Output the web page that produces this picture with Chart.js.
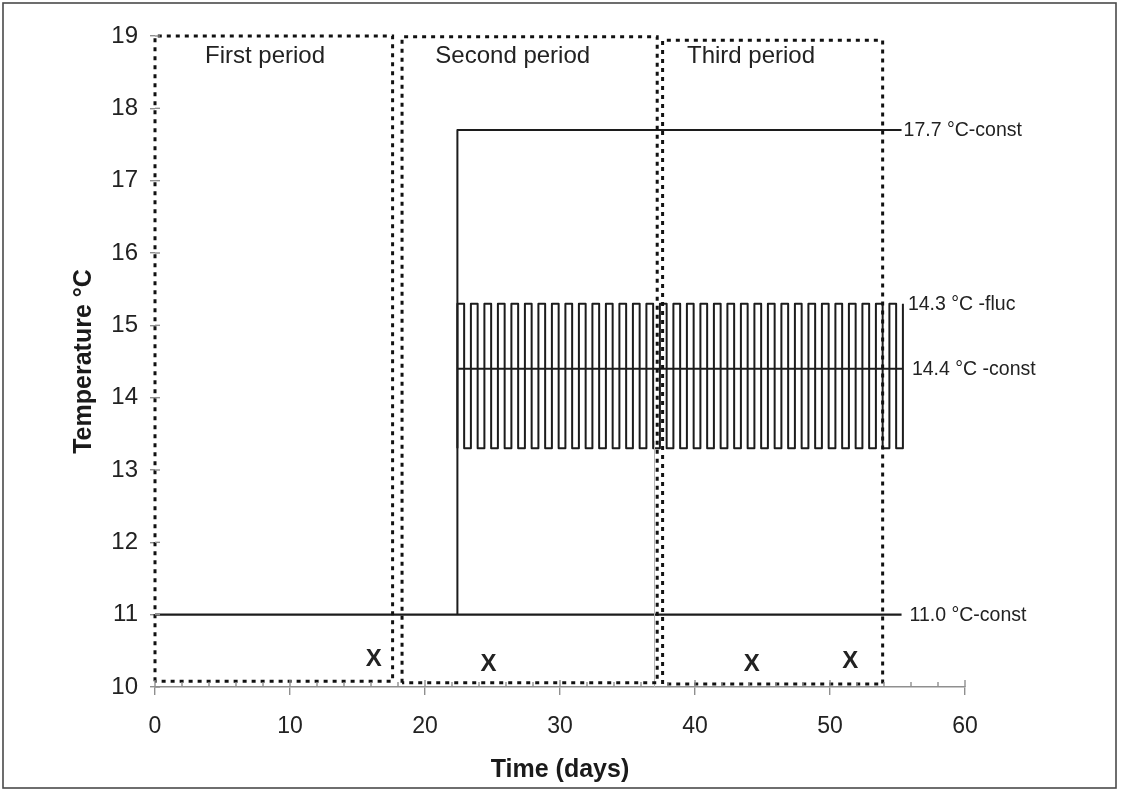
<!DOCTYPE html>
<html>
<head>
<meta charset="utf-8">
<title>Temperature regimes</title>
<script src="https://cdn.jsdelivr.net/npm/chart.js@4/dist/chart.umd.min.js"></script>
<style>
  html, body { margin: 0; padding: 0; background: #ffffff; }
  #wrap { width: 1121px; height: 791px; }
</style>
</head>
<body>
<div id="wrap"><canvas id="chart" width="1121" height="791"></canvas></div>
<script>
// ---- temperature regimes (days, °C) ----
const days11 = [0, 55.3];
const temps11 = [11.0, 11.0];

const days177 = [22.4, 22.4, 55.3];
const temps177 = [11.0, 17.7, 17.7];

const days144 = [22.4, 55.4];
const temps144 = [14.4, 14.4];

// fluctuating regime: switches to the high step, then back to the low step
const flucRiseDays = [22.4, 23.4, 24.4, 25.4, 26.4, 27.4, 28.4, 29.4, 30.4, 31.4, 32.4, 33.4,
                      34.4, 35.4, 36.4, 37.4, 38.4, 39.4, 40.4, 41.4, 42.4, 43.4, 44.4, 45.4,
                      46.4, 47.4, 48.4, 49.4, 50.4, 51.4, 52.4, 53.4, 54.4, 55.4];
const flucFallDays = [22.9, 23.9, 24.9, 25.9, 26.9, 27.9, 28.9, 29.9, 30.9, 31.9, 32.9, 33.9,
                      34.9, 35.9, 36.9, 37.9, 38.9, 39.9, 40.9, 41.9, 42.9, 43.9, 44.9, 45.9,
                      46.9, 47.9, 48.9, 49.9, 50.9, 51.9, 52.9, 53.9, 54.9];
const flucHigh = 15.3;
const flucLow = 13.3;

const seriesLabels = ['17.7 °C-const', '14.3 °C -fluc', '14.4 °C -const', '11.0 °C-const'];

// experimental periods
const periodNames = ['First period', 'Second period', 'Third period'];
const periodStart = [0, 18.3, 37.6];
const periodEnd = [17.6, 37.2, 53.9];
const periodBottom = [10.08, 10.06, 10.04];
const periodTop = [19.0, 18.99, 18.94];

// sampling occasions
const sampleDays = [16.2, 24.7, 44.2, 51.5];
const sampleTemps = [10.39, 10.33, 10.32, 10.37];

// axis ticks
const yTicks = [10, 11, 12, 13, 14, 15, 16, 17, 18, 19];
const xTickLabels = [0, 10, 20, 30, 40, 50, 60];

// ---- build point lists ----
const pts = (xs, ys) => xs.map((v, i) => ({ x: v, y: ys[i] }));

const flucPoints = [];
flucRiseDays.forEach((r, i) => {
  flucPoints.push({ x: r, y: flucLow });
  flucPoints.push({ x: r, y: flucHigh });
  if (i < flucFallDays.length) {
    flucPoints.push({ x: flucFallDays[i], y: flucHigh });
    flucPoints.push({ x: flucFallDays[i], y: flucLow });
  }
});

const boxPoints = periodStart.map((s, i) => [
  { x: s, y: periodBottom[i] },
  { x: s, y: periodTop[i] },
  { x: periodEnd[i], y: periodTop[i] },
  { x: periodEnd[i], y: periodBottom[i] },
  { x: s, y: periodBottom[i] }
]);

const FONT = '"Liberation Sans", Arial, Helvetica, sans-serif';
const INK = '#1c1c1c';
const AXIS = '#8f8f8f';

const solid = (data, width) => ({
  data, borderColor: INK, borderWidth: width, pointRadius: 0, tension: 0,
  fill: false, clip: false, borderJoinStyle: 'round', borderCapStyle: 'butt'
});
const dashed = (data) => ({
  data, borderColor: '#111', borderWidth: 3, borderDash: [4, 5], pointRadius: 0,
  tension: 0, fill: false, clip: false
});

const datasets = [
  ...boxPoints.map(dashed),
  { data: pts([37.0, 37.0], [10, 13.4]), borderColor: '#b5b5b5', borderWidth: 1,
    pointRadius: 0, fill: false, clip: false },
  solid(pts(days11, temps11), 2.2),
  solid(pts(days177, temps177), 2),
  solid(flucPoints, 2),
  solid(pts(days144, temps144), 2.2)
];

// annotations: frame, inward tick marks, period titles, series labels, sample marks
const decorations = {
  id: 'decorations',
  beforeDraw(chart) {
    const { ctx, width, height } = chart;
    ctx.save();
    ctx.fillStyle = '#ffffff';
    ctx.fillRect(0, 0, width, height);
    ctx.restore();
  },
  afterDraw(chart) {
    const { ctx, scales: { x, y } } = chart;
    ctx.save();

    // outer frame
    ctx.strokeStyle = '#4a4a4a';
    ctx.lineWidth = 1.6;
    ctx.strokeRect(3, 3, chart.width - 8, chart.height - 6);

    // inward tick marks
    ctx.strokeStyle = AXIS;
    ctx.lineWidth = 1.4;
    const x0 = x.getPixelForValue(0);
    yTicks.forEach(v => {
      const py = y.getPixelForValue(v);
      ctx.beginPath(); ctx.moveTo(x0, py); ctx.lineTo(x0 + 5, py); ctx.stroke();
    });
    const yb = y.getPixelForValue(10);
    x.ticks.forEach(t => {
      const px = x.getPixelForValue(t.value);
      const len = t.value % 10 === 0 ? 7 : 5;
      ctx.beginPath(); ctx.moveTo(px, yb); ctx.lineTo(px, yb - len); ctx.stroke();
    });

    // period titles
    ctx.fillStyle = '#222';
    ctx.font = '24px ' + FONT;
    ctx.textAlign = 'center';
    ctx.textBaseline = 'middle';
    const titleDays = [8.15, 26.5, 44.15];
    periodNames.forEach((n, i) => {
      ctx.fillText(n, x.getPixelForValue(titleDays[i]), y.getPixelForValue(18.72));
    });

    // series end labels
    ctx.font = '19.5px ' + FONT;
    ctx.textAlign = 'left';
    const ends = [
      { x: days177[days177.length - 1], y: temps177[temps177.length - 1], dx: 2 },
      { x: flucRiseDays[flucRiseDays.length - 1], y: flucHigh, dx: 5 },
      { x: days144[days144.length - 1], y: temps144[temps144.length - 1], dx: 9 },
      { x: days11[days11.length - 1], y: temps11[temps11.length - 1], dx: 8 }
    ];
    ends.forEach((e, i) => {
      ctx.fillText(seriesLabels[i], x.getPixelForValue(e.x) + e.dx, y.getPixelForValue(e.y) + 1);
    });

    // sampling marks
    ctx.font = 'bold 24px ' + FONT;
    ctx.textAlign = 'center';
    sampleDays.forEach((d, i) => {
      ctx.fillText('X', x.getPixelForValue(d), y.getPixelForValue(sampleTemps[i]) + 1);
    });

    ctx.restore();
  }
};

new Chart(document.getElementById('chart'), {
  type: 'line',
  data: { datasets },
  options: {
    responsive: false,
    animation: false,
    events: [],
    layout: { padding: { top: 36, right: 156, left: 0, bottom: 0 } },
    plugins: { legend: { display: false }, tooltip: { enabled: false } },
    scales: {
      x: {
        type: 'linear',
        min: 0, max: 60,
        afterFit(scale) { scale.height = 104; },
        border: { display: true, color: AXIS, width: 1.4 },
        grid: {
          drawOnChartArea: false, drawTicks: true, tickLength: 8, lineWidth: 1.4,
          tickColor: ctx => (ctx.tick && xTickLabels.includes(ctx.tick.value)) ? AXIS : 'rgba(0,0,0,0)'
        },
        ticks: {
          stepSize: 2, autoSkip: false, maxRotation: 0, padding: 18,
          color: '#222', font: { family: FONT, size: 23 },
          callback: v => xTickLabels.includes(v) ? String(v) : ''
        },
        title: {
          display: true, text: 'Time (days)', color: '#1a1a1a',
          font: { family: FONT, size: 25, weight: 'bold' },
          padding: { top: 0, bottom: 6 }
        }
      },
      y: {
        type: 'linear',
        min: 10, max: 19,
        afterFit(scale) { scale.width = 155; },
        afterBuildTicks(scale) { scale.ticks = yTicks.map(v => ({ value: v })); },
        border: { display: false },
        grid: { drawOnChartArea: false, drawTicks: true, tickLength: 5, lineWidth: 1.4, tickColor: AXIS },
        ticks: {
          padding: 12, color: '#222', font: { family: FONT, size: 24 },
          callback: v => String(v)
        },
        title: {
          display: true, text: 'Temperature °C', color: '#1a1a1a',
          font: { family: FONT, size: 25, weight: 'bold' },
          padding: { top: 69, bottom: 0 }
        }
      }
    }
  },
  plugins: [decorations]
});
</script>
</body>
</html>
